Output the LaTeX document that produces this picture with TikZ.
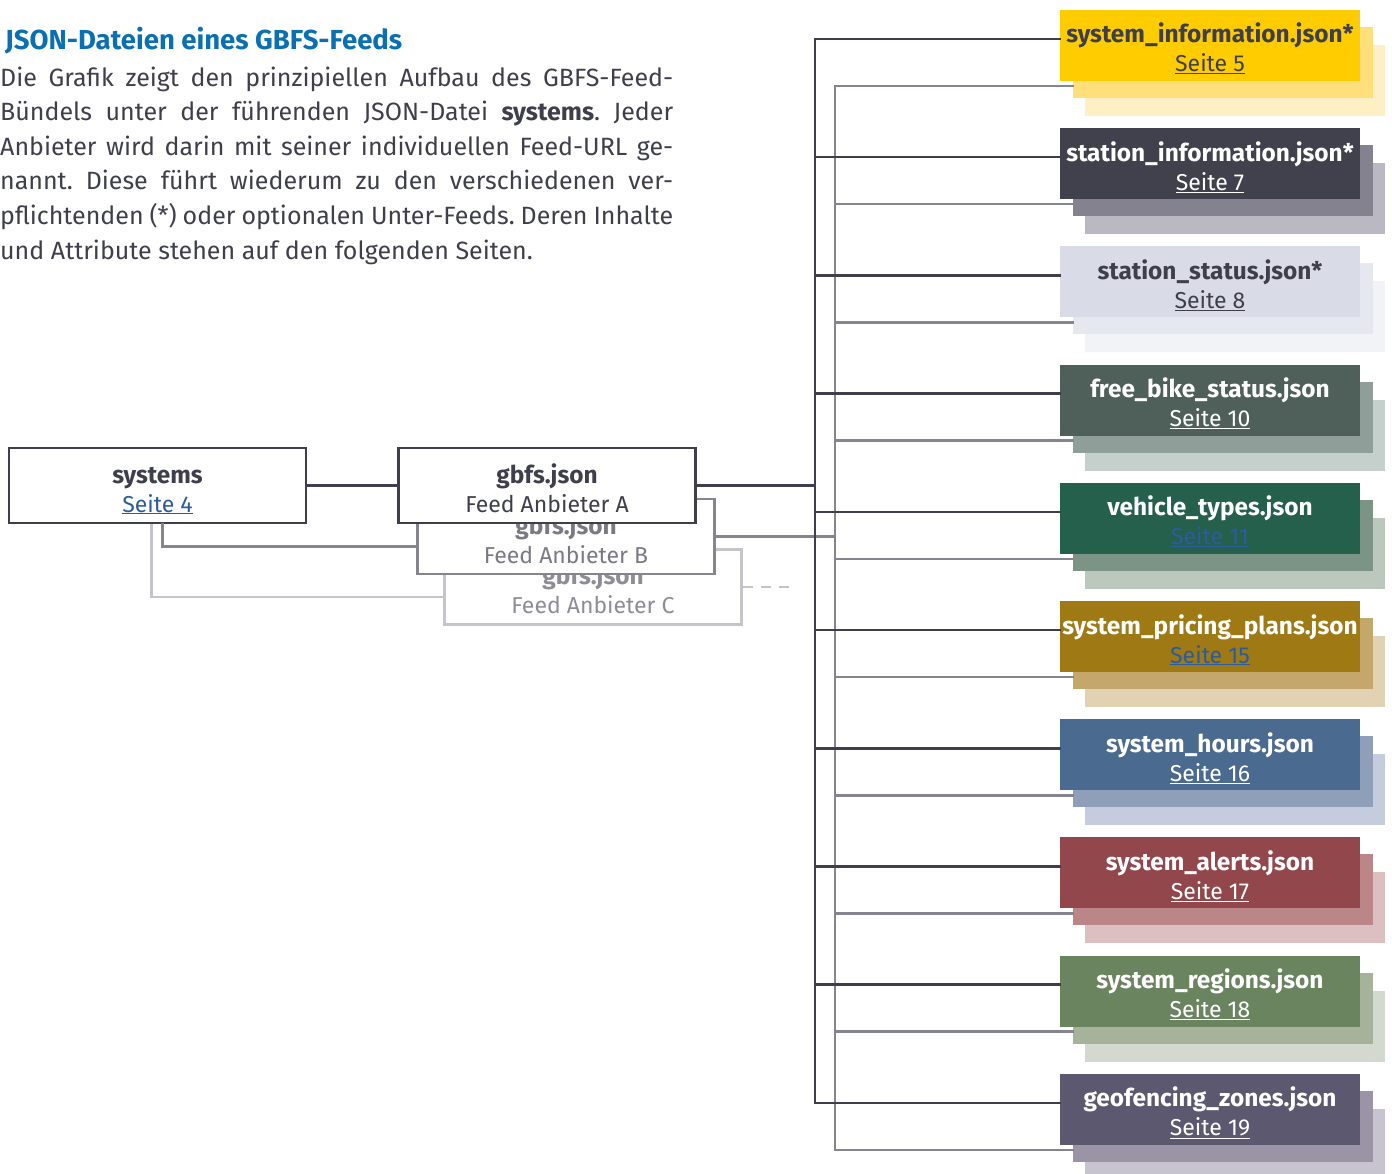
\documentclass[tikz,border=0pt]{standalone}
\usepackage{fontspec}
\setmainfont{Fira Sans}
\usepackage{tikz}

\definecolor{ink}{HTML}{3E3F4B}
\definecolor{linkblue}{HTML}{2B5C9E}
\definecolor{headblue}{HTML}{0A70B2}
\definecolor{feedb}{HTML}{86858F}
\definecolor{feedbtext}{HTML}{7A7984}
\definecolor{feedc}{HTML}{C4C4CA}
\definecolor{feedctext}{HTML}{8E8D96}

\definecolor{front1}{HTML}{FFCC00}\definecolor{mid1}{HTML}{FEDF7C}\definecolor{back1}{HTML}{FEEFC4}
\definecolor{front2}{HTML}{40414D}\definecolor{mid2}{HTML}{83828E}\definecolor{back2}{HTML}{BAB9C3}
\definecolor{front3}{HTML}{D9DCE7}\definecolor{mid3}{HTML}{E6E8F0}\definecolor{back3}{HTML}{F2F3F7}
\definecolor{front4}{HTML}{4F5F5A}\definecolor{mid4}{HTML}{909E9A}\definecolor{back4}{HTML}{C5CFCC}
\definecolor{front5}{HTML}{24604C}\definecolor{mid5}{HTML}{7C9486}\definecolor{back5}{HTML}{BCC7BE}
\definecolor{front6}{HTML}{9E7914}\definecolor{mid6}{HTML}{C4A76B}\definecolor{back6}{HTML}{E0D2B2}
\definecolor{front7}{HTML}{4A6A8F}\definecolor{mid7}{HTML}{8F9EB9}\definecolor{back7}{HTML}{C5CCDD}
\definecolor{front8}{HTML}{92474C}\definecolor{mid8}{HTML}{BB8687}\definecolor{back8}{HTML}{DCBFC0}
\definecolor{front9}{HTML}{6A845F}\definecolor{mid9}{HTML}{A7B29A}\definecolor{back9}{HTML}{D3D9CE}
\definecolor{front10}{HTML}{5C586F}\definecolor{mid10}{HTML}{9A94A6}\definecolor{back10}{HTML}{C7C4D0}

\newcommand{\seite}[1]{\underline{Seite #1}}
\newcommand{\boxtext}[2]{\rule{0pt}{32pt}{\fontsize{24.4}{29}\selectfont\bfseries #1}\\#2\rule[-8pt]{0pt}{8pt}}

\tikzset{
	filebox/.style={draw=ink, line width=2.6pt, fill=white, minimum width=297pt, minimum height=75pt,
		inner sep=0pt, align=center, text=ink, font=\fontsize{23}{29}\selectfont},
	front/.style={minimum width=300pt, minimum height=71pt, inner sep=0pt, align=center,
		font=\fontsize{23}{29}\selectfont},
	layer/.style={minimum width=300pt, minimum height=71pt, inner sep=0pt},
	darkline/.style={draw=ink, line width=2.6pt, line cap=rect},
	grayline/.style={draw=feedb, line width=2.6pt, line cap=rect},
	lightline/.style={draw=feedc, line width=2.6pt},
}

\begin{document}
\begin{tikzpicture}[x=1pt, y=-1pt]

	\useasboundingbox (0,0) rectangle (1392,1174);

	\node[anchor=base west, inner sep=0pt, text=headblue, font=\fontsize{27.5}{30}\selectfont\bfseries] (head) at (5,50) {JSON-Dateien eines GBFS-Feeds};
	\node[anchor=north west, inner sep=0pt, text width=673pt, align=justify, text=ink,
		font=\fontsize{25}{34.6}\selectfont\frenchspacing] (intro) at (0,65)
		{\rule{0pt}{21pt}Die Grafik zeigt den prinzipiellen Aufbau des GBFS-Feed-\linebreak
		Bündels unter der führenden JSON-Datei \textbf{systems}. Jeder\linebreak
		Anbieter wird darin mit seiner individuellen Feed-URL ge-\linebreak
		nannt. Diese führt wiederum zu den verschiedenen ver-\linebreak
		pflichtenden (*) oder optionalen Unter-Feeds. Deren Inhalte\linebreak
		und Attribute stehen auf den folgenden Seiten.};

	\node[filebox, draw=feedc, text=feedctext] (gbfsC) at (593,587) {\boxtext{gbfs.json}{Feed Anbieter C}};
	\node[filebox, draw=feedb, text=feedbtext] (gbfsB) at (566,536.5) {\boxtext{gbfs.json}{Feed Anbieter B}};
	\node[filebox] (gbfsA) at (547,485.5) {\boxtext{gbfs.json}{Feed Anbieter A}};
	\node[filebox] (systems) at (157.5,485.5) {\boxtext{systems}{\textcolor{linkblue}{\seite{4}}}};

	\coordinate (cdash) at (790,587);

	\foreach \i/\fname/\pg/\tcol/\lcol in {
		1/system\_information.json*/5/ink/ink,
		2/station\_information.json*/7/white/white,
		3/station\_status.json*/8/ink/ink,
		4/free\_bike\_status.json/10/white/white,
		5/vehicle\_types.json/11/white/linkblue,
		6/system\_pricing\_plans.json/15/white/linkblue,
		7/system\_hours.json/16/white/white,
		8/system\_alerts.json/17/white/white,
		9/system\_regions.json/18/white/white,
		10/geofencing\_zones.json/19/white/white}
	{
		\pgfmathsetmacro{\ytop}{10+118.2*(\i-1)}
		\node[layer, fill=back\i] (t\i) at (1235,{\ytop+70.5}) {};
		\node[layer, fill=mid\i] (s\i) at (1223,{\ytop+52.5}) {};
		\node[front, fill=front\i, text=\tcol] (f\i) at (1210,{\ytop+35.5}) {\boxtext{\fname}{\textcolor{\lcol}{\seite{\pg}}}};
		\coordinate (dk\i) at (815,{\ytop+29});
		\coordinate (gt\i) at (835,{\ytop+76});
	}

	\draw[darkline] (systems) -- (gbfsA);
	\draw[grayline] ([xshift=5pt]systems.south) |- ([yshift=-10pt]gbfsB.west);
	\draw[lightline] ([xshift=-6pt]systems.south) |- ([yshift=-10pt]gbfsC.west);
	\draw[lightline, dash pattern=on 10pt off 8pt] (gbfsC.east) -- (cdash);

	\draw[grayline] (gbfsB.east) -- (gbfsB.east -| gt1);
	\draw[grayline] (gt1) -- (gt10);
	\foreach \i in {1,...,10}
		\draw[grayline] (gt\i) -- (gt\i -| s\i.west);

	\draw[darkline] (gbfsA.east) -- (gbfsA.east -| dk1);
	\draw[darkline] (dk1) -- (dk10);
	\foreach \i in {1,...,10}
		\draw[darkline] (dk\i) -- (dk\i -| f\i.west);

\end{tikzpicture}
\end{document}
